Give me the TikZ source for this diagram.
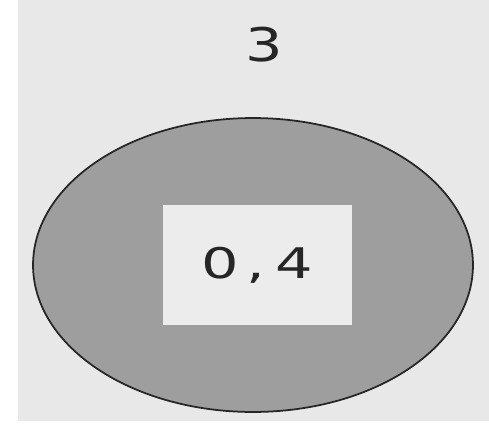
\documentclass[tikz,border=0pt]{standalone}
\usepackage{fontspec}
\usepackage{tikz}
\usetikzlibrary{positioning, shapes.geometric}
\newfontfamily\numfont{DejaVu Sans}
\definecolor{paper}{RGB}{232,232,232}
\definecolor{setgrey}{RGB}{158,158,158}
\definecolor{partgrey}{RGB}{236,236,236}
\tikzset{
  setshape/.style={ellipse, draw=black!85, line width=1pt, fill=setgrey, minimum width=8.8cm, minimum height=5.88cm, inner sep=0pt},
  partbox/.style={rectangle, fill=partgrey, minimum width=3.78cm, minimum height=2.4cm, inner sep=0pt},
  numtext/.style={font=\numfont\fontsize{24}{28}\selectfont, text=black!85}}

\begin{document}
\begin{tikzpicture}[x=0.02cm, y=-0.02cm]
	\useasboundingbox (0,0) rectangle (489,433);
	\fill [white] (0,0) rectangle (489,433);
	\fill [paper] (18,0) rectangle (489,421);
	\coordinate (o) at (253,265);
		\node [setshape] (set) at (o) {};
		\node [partbox, numtext] (part) at (257.5,265) {\scalebox{1.4}[1]{0\hspace{3pt},\hspace{4pt}4}};
	\node [numtext] (title) at (264,45) {\scalebox{1.4}[1.1]{3}};
	\end{tikzpicture}
\end{document}
